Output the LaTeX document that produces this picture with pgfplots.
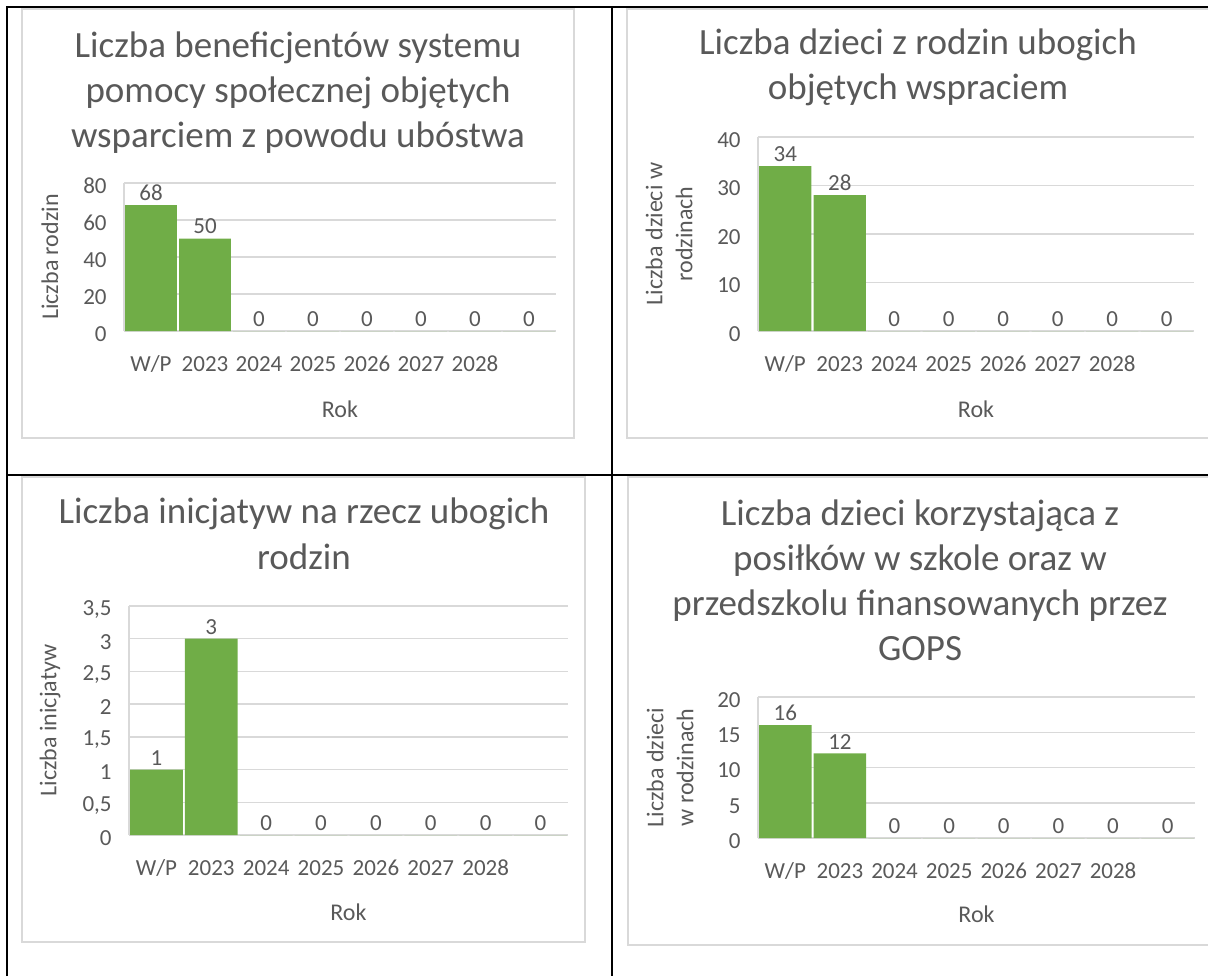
\documentclass[border=0pt]{standalone}
\usepackage{fontspec}
\setmainfont{Carlito}
\usepackage{pgfplots}
\pgfplotsset{compat=1.18}
\definecolor{bargreen}{HTML}{70AD47}
\definecolor{gridgray}{HTML}{D9D9D9}
\definecolor{txtgray}{HTML}{595959}

\pgfplotsset{
  gops/.style={
    scale only axis, anchor=south west,
    ybar, bar width=0.96,
    xmin=-0.5, xmax=7.5, ymin=0,
    xtick={0,...,6},
    xticklabels={W/P,2023,2024,2025,2026,2027,2028},
    major tick length=0pt,
    axis x line*=bottom, axis y line*=left,
    axis line style={draw=gridgray, line width=0.75pt, -},
    ymajorgrids, grid style={draw=gridgray, line width=0.75pt},
    font=\fontsize{11.5}{15}\selectfont,
    tick label style={text=txtgray},
    /pgf/number format/assume math mode=true,
    /pgf/number format/use comma,
    xticklabel style={anchor=base, inner sep=0pt, yshift=-20pt},
    yticklabel style={anchor=east, inner sep=0pt, xshift=-8.5pt, yshift=-1.5pt},
    xlabel={Rok},
    label style={text=txtgray, inner sep=0pt, font=\fontsize{12}{15}\selectfont},
    nodes near coords,
    nodes near coords style={text=txtgray, anchor=south, inner sep=0pt, yshift=2pt},
  },
  bars/.style={fill=bargreen, draw=none},
}

\begin{document}
\begin{tikzpicture}
\useasboundingbox (0,0) rectangle (604pt,488pt);

% Liczba rodzin
\begin{axis}[gops, at={(62pt,322.5pt)}, width=216pt, height=74pt,
    ymax=80, ytick={0,20,...,80},
    ylabel={Liczba rodzin},
    ylabel style={at={([xshift=-37pt]axis description cs:0,0.5)}, anchor=center},
    xlabel style={at={([yshift=-43pt]axis description cs:0.5,0)}, anchor=base}]
  \addplot[bars] coordinates {(0,68) (1,50) (2,0) (3,0) (4,0) (5,0) (6,0) (7,0)};
\end{axis}

% Liczba dzieci w rodzinach
\begin{axis}[gops, at={(379pt,322.5pt)}, width=218pt, height=97pt,
    ymax=40, ytick={0,10,...,40},
    ylabel={Liczba dzieci w\\rodzinach},
    ylabel style={align=center, at={([xshift=-44.5pt]axis description cs:0,0.5)}, anchor=center},
    xlabel style={at={([yshift=-43pt]axis description cs:0.5,0)}, anchor=base}]
  \addplot[bars] coordinates {(0,34) (1,28) (2,0) (3,0) (4,0) (5,0) (6,0) (7,0)};
\end{axis}

% Liczba inicjatyw
\begin{axis}[gops, at={(64.5pt,70.5pt)}, width=219.5pt, height=114.5pt,
    ymax=3.5, ytick={0,0.5,...,3.5},
    ylabel={Liczba inicjatyw},
    ylabel style={at={([xshift=-39.5pt]axis description cs:0,0.5)}, anchor=center},
    xlabel style={at={([yshift=-42.7pt]axis description cs:0.5,0)}, anchor=base}]
  \addplot[bars] coordinates {(0,1) (1,3) (2,0) (3,0) (4,0) (5,0) (6,0) (7,0)};
\end{axis}

% Liczba dzieci korzystajaca z posilkow
\begin{axis}[gops, at={(379pt,69pt)}, width=218.5pt, height=70.5pt,
    ymax=20, ytick={0,5,...,20},
    ylabel={Liczba dzieci\\w rodzinach},
    ylabel style={align=center, at={([xshift=-44pt]axis description cs:0,0.5)}, anchor=center},
    xlabel style={at={([yshift=-42.2pt]axis description cs:0.5,0)}, anchor=base}]
  \addplot[bars] coordinates {(0,16) (1,12) (2,0) (3,0) (4,0) (5,0) (6,0) (7,0)};
\end{axis}

\begin{scope}[x=0.5pt, y=-0.5pt, yshift=488pt]
  % chart frames
  \draw[gridgray, line width=0.75pt] (22,9) rectangle (574,438);
  \draw[gridgray, line width=0.75pt] (1212,9) -- (627,9) -- (627,438) -- (1212,438);
  \draw[gridgray, line width=0.75pt] (22,477) rectangle (585,942);
  \draw[gridgray, line width=0.75pt] (1212,477) -- (628,477) -- (628,945) -- (1212,945);
  % table rules
  \draw[black, line width=1.25pt] (7,976) -- (7,7) -- (1208,7);
  \draw[black, line width=1.25pt] (612,7) -- (612,976);
  \draw[black, line width=1.25pt] (7,475) -- (1208,475);
  % titles
  \begin{scope}[every node/.style={anchor=base, inner sep=0pt, text=txtgray,
      font=\fontsize{18.5}{22.5}\selectfont}]
    \node at (298,58)  {Liczba beneficjentów systemu};
    \node at (298,103) {pomocy społecznej objętych};
    \node at (298,148) {wsparciem z powodu ubóstwa};
    \node at (918,55)  {Liczba dzieci z rodzin ubogich};
    \node at (918,100) {objętych wspraciem};
    \node at (304,523) {Liczba inicjatyw na rzecz ubogich};
    \node at (304,569) {rodzin};
    \node at (920,525) {Liczba dzieci korzystająca z};
    \node at (920,570) {posiłków w szkole oraz w};
    \node at (920,615) {przedszkolu finansowanych przez};
    \node at (920,660) {GOPS};
  \end{scope}
\end{scope}
\end{tikzpicture}
\end{document}
